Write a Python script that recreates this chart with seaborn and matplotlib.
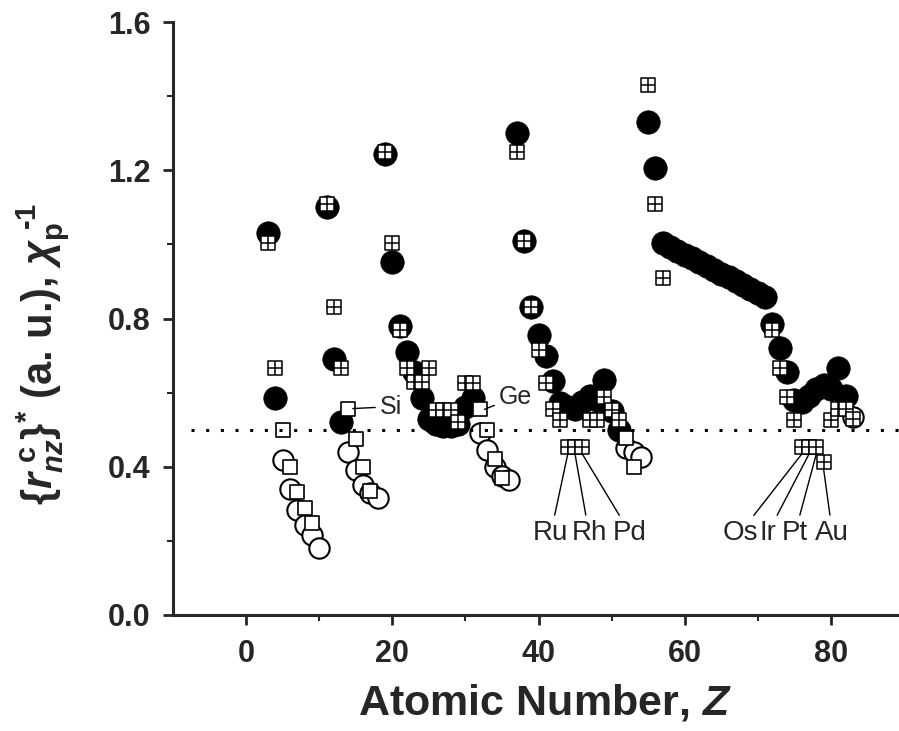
import numpy as np
import pandas as pd
import seaborn as sns
import matplotlib.pyplot as plt
from matplotlib.path import Path

# {r_nz^c}* for metals (filled circles)
z_metal = [3, 4, 11, 12, 13, 19, 20, 21, 22, 23, 24, 25, 26, 27, 28, 29, 30, 31,
           37, 38, 39, 40, 41, 42, 43, 44, 45, 46, 47, 48, 49, 50, 51, 55, 56,
           57, 58, 59, 60, 61, 62, 63, 64, 65, 66, 67, 68, 69, 70, 71,
           72, 73, 74, 75, 76, 77, 78, 79, 80, 81, 82]
r_metal = [1.03, 0.585, 1.10, 0.69, 0.52, 1.245, 0.953, 0.78, 0.71, 0.655, 0.585, 0.53,
           0.515, 0.51, 0.51, 0.515, 0.56, 0.585,
           1.30, 1.01, 0.83, 0.755, 0.70, 0.632, 0.572, 0.56, 0.555, 0.575, 0.59, 0.58,
           0.634, 0.55, 0.50, 1.33, 1.205,
           1.003, 0.993, 0.982, 0.972, 0.962, 0.952, 0.942, 0.931, 0.921, 0.911, 0.900,
           0.890, 0.880, 0.869, 0.859,
           0.785, 0.72, 0.655, 0.58, 0.575, 0.59, 0.61, 0.62, 0.61, 0.666, 0.59]

# {r_nz^c}* for non-metals (open circles)
z_nonmetal = [5, 6, 7, 8, 9, 10, 14, 15, 16, 17, 18, 32, 33, 34, 35, 36, 52, 53, 54, 83]
r_nonmetal = [0.418, 0.34, 0.283, 0.243, 0.215, 0.18, 0.44, 0.391, 0.35, 0.33, 0.315,
              0.49, 0.445, 0.40, 0.375, 0.364, 0.45, 0.44, 0.427, 0.535]

# chi_p^-1 for non-metals (open squares)
z_chi_nm = [5, 6, 7, 8, 9, 14, 15, 16, 17, 32, 33, 34, 35, 52, 53]
chi_nm = [0.499, 0.398, 0.333, 0.288, 0.247, 0.557, 0.474, 0.398, 0.335,
          0.555, 0.499, 0.42, 0.37, 0.477, 0.40]

# chi_p^-1 for metals (boxed-cross squares)
z_chi_m = [3, 4, 11, 12, 13, 19, 20, 21, 22, 23, 24, 25, 26, 27, 28, 29, 30, 31,
           37, 38, 39, 40, 41, 42, 43, 44, 45, 46, 47, 48, 49, 50, 51, 55, 56, 57,
           72, 73, 74, 75, 76, 77, 78, 79, 80, 81, 82, 83]
chi_m = [1.003, 0.667, 1.11, 0.832, 0.667, 1.25, 1.003, 0.77, 0.666, 0.628, 0.628, 0.666,
         0.553, 0.553, 0.553, 0.52, 0.625, 0.625,
         1.25, 1.01, 0.83, 0.715, 0.625, 0.555, 0.526, 0.454, 0.454, 0.454, 0.526, 0.526,
         0.589, 0.553, 0.526, 1.43, 1.11, 0.909,
         0.769, 0.666, 0.589, 0.526, 0.454, 0.454, 0.454, 0.414, 0.526, 0.556, 0.556, 0.53]

# labelled elements: (name, Z, value, text x, text y)
side_labels = [("Si", 14, 0.557, 18.3, 0.562), ("Ge", 32, 0.555, 34.6, 0.588)]
bottom_labels = [("Ru", 44, 0.454, 41.7), ("Rh", 45, 0.454, 46.9), ("Pd", 46, 0.454, 52.5),
                 ("Os", 76, 0.454, 67.6), ("Ir", 77, 0.454, 71.4), ("Pt", 78, 0.454, 75.1),
                 ("Au", 79, 0.414, 80.2)]

sns.set_style("ticks")
plt.rcParams['font.family'] = ['Liberation Sans', 'DejaVu Sans']
plt.rcParams['mathtext.fontset'] = 'custom'
plt.rcParams['mathtext.rm'] = 'Liberation Sans:bold'
plt.rcParams['mathtext.bf'] = 'Liberation Sans:bold'
plt.rcParams['mathtext.it'] = 'Liberation Sans:bold:italic'

fig = plt.figure(figsize=(8.99, 7.31), dpi=100)
ax = fig.add_axes([173 / 899, 116 / 731, 731 / 899, 593 / 731])

# square with a cross inside
box_plus = Path([(-1, -1), (1, -1), (1, 1), (-1, 1), (-1, -1), (0, -1), (0, 1), (-1, 0), (1, 0)],
                [Path.MOVETO, Path.LINETO, Path.LINETO, Path.LINETO, Path.CLOSEPOLY,
                 Path.MOVETO, Path.LINETO, Path.MOVETO, Path.LINETO])

df_metal = pd.DataFrame({"Z": z_metal, "val": r_metal})
df_nonmetal = pd.DataFrame({"Z": z_nonmetal, "val": r_nonmetal})
df_chi_nm = pd.DataFrame({"Z": z_chi_nm, "val": chi_nm})
df_chi_m = pd.DataFrame({"Z": z_chi_m, "val": chi_m})

sns.scatterplot(data=df_metal, x="Z", y="val", marker="o", s=285, color="black",
                edgecolor="black", linewidth=0.5, ax=ax, zorder=2)
sns.scatterplot(data=df_nonmetal, x="Z", y="val", marker="o", s=215, color="white",
                edgecolor="black", linewidth=1.5, ax=ax, zorder=3)
sns.scatterplot(data=df_chi_nm, x="Z", y="val", marker="s", s=115, color="white",
                edgecolor="black", linewidth=1.2, ax=ax, zorder=4)
sns.scatterplot(data=df_chi_m, x="Z", y="val", marker=box_plus, s=115, color="white",
                edgecolor="black", linewidth=1.1, ax=ax, zorder=5)

ax.hlines(0.5, -7.5, 90, colors="black", linestyles=(0, (1, 3.8)), linewidth=2.2, zorder=6)

for name, z, v, tx, ty in side_labels:
    ax.annotate(name, xy=(z + 0.6, v), xytext=(tx, ty), ha="left", va="center",
                fontsize=18, zorder=7,
                arrowprops=dict(arrowstyle="-", lw=1, color="black", shrinkA=1, shrinkB=0))

for name, z, v, tx in bottom_labels:
    ax.annotate(name, xy=(z, v - 0.02), xytext=(tx, 0.257), ha="center", va="top",
                fontsize=20, zorder=7,
                arrowprops=dict(arrowstyle="-", lw=1, color="black", shrinkA=1, shrinkB=0))

ax.set_xlim(-10, 90)
ax.set_ylim(0, 1.6)
ax.set_xticks([0, 20, 40, 60, 80])
ax.set_xticks([10, 30, 50, 70], minor=True)
ax.set_yticks([0.0, 0.4, 0.8, 1.2, 1.6])
ax.set_yticks([0.2, 0.6, 1.0, 1.4], minor=True)
ax.set_yticklabels(["0.0", "0.4", "0.8", "1.2", "1.6"])
ax.tick_params(which="major", length=7, width=2, labelsize=22, direction="out")
ax.tick_params(axis="y", which="major", pad=9)
ax.tick_params(axis="x", which="major", pad=10)
ax.tick_params(which="minor", length=4, width=1.5, direction="out")
for lab in ax.get_xticklabels() + ax.get_yticklabels():
    lab.set_fontweight("bold")

sns.despine(ax=ax)
ax.spines["left"].set_linewidth(2.2)
ax.spines["bottom"].set_linewidth(2.2)

ax.set_xlabel(r"Atomic Number, $\mathit{Z}$", fontsize=31, fontweight="bold")
ax.xaxis.set_label_coords(0.509, -0.113)
ax.set_ylabel(r"$\{\mathit{r}_{\mathit{nz}}^{\ \mathrm{c}}\}^{*}$ (a. u.), "
              r"$\chi_{\mathrm{p}}^{\ \text{-1}}$",
              fontsize=30, fontweight="bold")
ax.yaxis.set_label_coords(-0.138, 0.44)

fig.savefig("out.png", dpi=100)
